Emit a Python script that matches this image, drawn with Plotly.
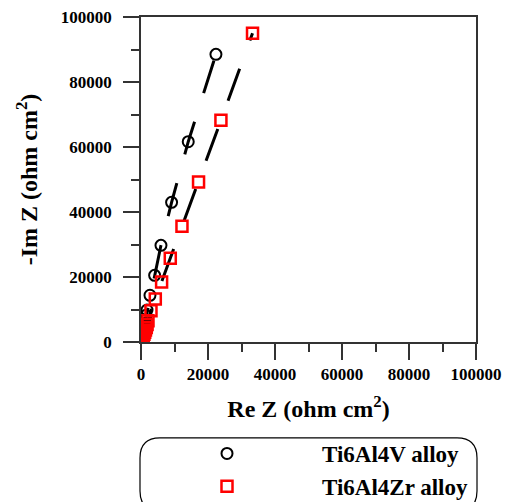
import plotly.graph_objects as go

# Ti6Al4V alloy (circles)
v_re = [60, 150, 260, 380, 520, 680, 860, 1050, 1250, 1500, 1790, 2680, 4070, 5960, 9130, 14100, 22370]
v_im = [250, 700, 1300, 2000, 2800, 3700, 4700, 5700, 6770, 8200, 9850, 14370, 20520, 29750, 42980, 61630, 88520]

# Ti6Al4Zr alloy (squares)
zr_re = [80, 200, 340, 500, 680, 880, 1100, 1330, 1580, 1820, 2090, 2980, 4270, 6150, 8740, 12230, 17180, 23860, 33290]
zr_im = [150, 450, 850, 1300, 1800, 2400, 3000, 3700, 4500, 5400, 6550, 9630, 13230, 18460, 25750, 35600, 49230, 68200, 94980]

x_ticks = [0, 20000, 40000, 60000, 80000, 100000]
y_ticks = [0, 20000, 40000, 60000, 80000, 100000]

FONT = "Liberation Serif"

fig = go.Figure()

# fitted (dashed) lines
fig.add_trace(go.Scatter(x=v_re, y=v_im, mode="lines", showlegend=False,
                         line=dict(color="black", width=3, dash="34px,30px")))
fig.add_trace(go.Scatter(x=zr_re, y=zr_im, mode="lines", showlegend=False,
                         line=dict(color="black", width=3, dash="34px,30px")))

# markers
fig.add_trace(go.Scatter(x=v_re, y=v_im, mode="markers", name="Ti6Al4V alloy",
                         legendgroup="a",
                         marker=dict(symbol="circle-open", size=11, color="black",
                                     line=dict(width=2, color="black"))))
fig.add_trace(go.Scatter(x=zr_re, y=zr_im, mode="markers", name="Ti6Al4Zr alloy",
                         legendgroup="b",
                         marker=dict(symbol="square-open", size=11, color="red",
                                     line=dict(width=2.5, color="red"))))

axis_common = dict(
    showline=True, linecolor="#333", linewidth=1.5, mirror=True,
    ticks="outside", ticklen=16, tickwidth=1.5, tickcolor="#333",
    showgrid=False, zeroline=False, automargin=False, ticklabeloverflow="allow",
    tickfont=dict(family=FONT, size=17, color="black", weight="bold"),
    minor=dict(ticks="outside", ticklen=8, tickwidth=1.5, tickcolor="#333", dtick=10000),
)

fig.update_xaxes(range=[0, 100000], tickvals=x_ticks, ticktext=[str(t) for t in x_ticks],
                 title=dict(text="Re Z (ohm cm<sup>2</sup>)", standoff=17,
                            font=dict(family=FONT, size=24, color="black", weight="bold")),
                 **axis_common)
fig.update_yaxes(range=[0, 100000], tickvals=y_ticks, ticktext=[str(t) for t in y_ticks],
                 title=dict(text="-Im Z (ohm cm<sup>2</sup>)", standoff=16,
                            font=dict(family=FONT, size=24, color="black", weight="bold")),
                 ticklabelstandoff=8,
                 **axis_common)

# rounded legend frame
r_x = 20 / 335
r_y = 20 / 325
x0, x1 = -0.003, 1.003
y0, y1 = -0.52, -0.295
path = (f"M {x0 + r_x} {y1} L {x1 - r_x} {y1} Q {x1} {y1} {x1} {y1 - r_y} "
        f"L {x1} {y0 + r_y} Q {x1} {y0} {x1 - r_x} {y0} L {x0 + r_x} {y0} "
        f"Q {x0} {y0} {x0} {y0 + r_y} L {x0} {y1 - r_y} Q {x0} {y1} {x0 + r_x} {y1} Z")
fig.add_shape(type="path", path=path, xref="paper", yref="paper",
              line=dict(color="black", width=1.2))

fig.update_layout(
    width=502, height=494,
    margin=dict(l=133, r=34, t=9, b=160, autoexpand=False),
    paper_bgcolor="white", plot_bgcolor="white",
    showlegend=True,
    legend=dict(x=(132 - 141) / 335, y=(342 - 432) / 325, xanchor="left", yanchor="top",
                bgcolor="rgba(0,0,0,0)", borderwidth=0, itemwidth=180,
                traceorder="grouped", tracegroupgap=0,
                font=dict(family=FONT, size=23, color="black", weight="bold")),
)

fig.write_html("out.html")
